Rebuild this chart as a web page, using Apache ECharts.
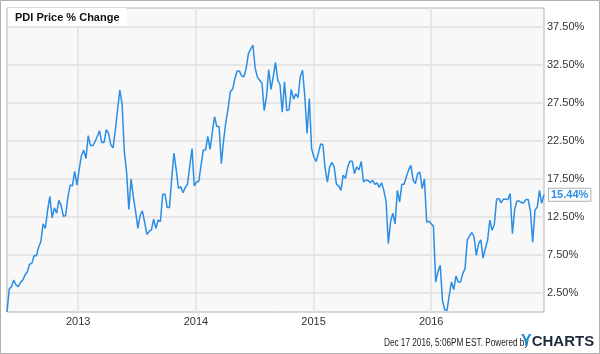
<!DOCTYPE html>
<html>
<head>
<meta charset="utf-8">
<script src="https://cdn.jsdelivr.net/npm/echarts@6/dist/echarts.min.js"></script>
<style>
html,body{margin:0;padding:0;background:#fff;}
#chart{width:600px;height:354px;}
</style>
</head>
<body>
<div id="chart"></div>
<script>
const titleText = 'PDI Price % Change';
const seriesName = 'PDI Price % Change';
const lastLabel = '15.44%';
const footerText = 'Dec 17 2016, 5:06PM EST. Powered by';
const yTickValues = [2.5, 7.5, 12.5, 17.5, 22.5, 27.5, 32.5, 37.5];
const xTickDates = ['2013-01-01', '2014-01-01', '2015-01-01', '2016-01-01'];
const xTickLabels = ['2013', '2014', '2015', '2016'];
const xMin = '2012-05-25';
const xMax = '2016-12-16';

const dates = [
'2012-05-25','2012-06-01','2012-06-08','2012-06-15','2012-06-22','2012-06-29','2012-07-06','2012-07-13','2012-07-20','2012-07-27','2012-08-03','2012-08-10','2012-08-17','2012-08-24','2012-08-31','2012-09-07','2012-09-14','2012-09-21','2012-09-28','2012-10-05','2012-10-12','2012-10-19','2012-10-26','2012-11-02','2012-11-09','2012-11-16','2012-11-23','2012-11-30','2012-12-07','2012-12-14','2012-12-21','2012-12-28',
'2013-01-04','2013-01-11','2013-01-18','2013-01-25','2013-02-01','2013-02-08','2013-02-15','2013-02-22','2013-03-01','2013-03-08','2013-03-15','2013-03-22','2013-03-29','2013-04-05','2013-04-12','2013-04-19','2013-04-26','2013-05-03','2013-05-10','2013-05-17','2013-05-24','2013-05-31','2013-06-07','2013-06-14','2013-06-21','2013-06-28','2013-07-05','2013-07-12','2013-07-19','2013-07-26','2013-08-02','2013-08-09','2013-08-16','2013-08-23','2013-08-30','2013-09-06','2013-09-13','2013-09-20','2013-09-27','2013-10-04','2013-10-11','2013-10-18','2013-10-25','2013-11-01','2013-11-08','2013-11-15','2013-11-22','2013-11-29','2013-12-06','2013-12-13','2013-12-20','2013-12-27',
'2014-01-03','2014-01-10','2014-01-17','2014-01-24','2014-01-31','2014-02-07','2014-02-14','2014-02-21','2014-02-28','2014-03-07','2014-03-14','2014-03-21','2014-03-28','2014-04-04','2014-04-11','2014-04-18','2014-04-25','2014-05-02','2014-05-09','2014-05-16','2014-05-23','2014-05-30','2014-06-06','2014-06-13','2014-06-20','2014-06-27','2014-07-04','2014-07-11','2014-07-18','2014-07-25','2014-08-01','2014-08-08','2014-08-15','2014-08-22','2014-08-29','2014-09-05','2014-09-12','2014-09-19','2014-09-26','2014-10-03','2014-10-10','2014-10-17','2014-10-24','2014-10-31','2014-11-07','2014-11-14','2014-11-21','2014-11-28','2014-12-05','2014-12-12','2014-12-19','2014-12-26',
'2015-01-02','2015-01-09','2015-01-16','2015-01-23','2015-01-30','2015-02-06','2015-02-13','2015-02-20','2015-02-27','2015-03-06','2015-03-13','2015-03-20','2015-03-27','2015-04-03','2015-04-10','2015-04-17','2015-04-24','2015-05-01','2015-05-08','2015-05-15','2015-05-22','2015-05-29','2015-06-05','2015-06-12','2015-06-19','2015-06-26','2015-07-03','2015-07-10','2015-07-17','2015-07-24','2015-07-31','2015-08-07','2015-08-14','2015-08-21','2015-08-28','2015-09-04','2015-09-11','2015-09-18','2015-09-25','2015-10-02','2015-10-09','2015-10-16','2015-10-23','2015-10-30','2015-11-06','2015-11-13','2015-11-20','2015-11-27','2015-12-04','2015-12-11','2015-12-18','2015-12-25',
'2016-01-01','2016-01-08','2016-01-15','2016-01-22','2016-01-29','2016-02-05','2016-02-12','2016-02-19','2016-02-26','2016-03-04','2016-03-11','2016-03-18','2016-03-25','2016-04-01','2016-04-08','2016-04-15','2016-04-22','2016-04-29','2016-05-06','2016-05-13','2016-05-20','2016-05-27','2016-06-03','2016-06-10','2016-06-17','2016-06-24','2016-07-01','2016-07-08','2016-07-15','2016-07-22','2016-07-29','2016-08-05','2016-08-12','2016-08-19','2016-08-26','2016-09-02','2016-09-09','2016-09-16','2016-09-23','2016-09-30','2016-10-07','2016-10-14','2016-10-21','2016-10-28','2016-11-04','2016-11-11','2016-11-18','2016-11-25','2016-12-02','2016-12-09','2016-12-16'
];

const values = [
0,3.03,3.34,4.2,3.56,3.34,3.9,4.2,4.87,5.3,6.28,6.4,7.4,7.4,8.5,9.27,11.6,11.0,13.4,15.2,12.4,13.7,13.0,14.7,14.0,12.6,12.7,15.15,16.7,16.6,18.5,16.7,
18.75,20.6,21.3,20.2,23.2,21.9,21.9,22.4,23.1,23.85,22.3,22.3,24.0,23.5,22.0,21.6,23.9,26.6,29.2,27.4,21.1,18.4,13.5,17.5,15.15,13.2,11.0,12.7,13.3,11.8,10.2,10.6,10.8,12.2,11.0,12.1,11.9,15.5,15.5,13.75,13.75,17.6,20.9,18.7,16.25,16.5,15.7,16.4,16.8,19.2,21.5,16.6,
17.1,17.2,19.3,21.3,21.3,23.1,21.4,23.7,25.7,24.4,24.4,19.5,22.6,25.0,26.8,29.0,29.3,30.7,31.7,31.7,31.05,30.95,32.05,34.0,34.6,35.1,32.05,30.9,30.5,30.1,26.5,28.3,31.9,29.3,30.95,32.85,30.5,29.9,26.3,30.3,26.5,26.6,29.3,28.0,28.7,28.2,31.0,31.8,28.3,23.5,28.1,21.5,
20.4,19.8,20.9,22.1,22.0,18.9,17.1,19.1,19.7,19.1,16.8,16.6,16.0,18.0,17.6,19.1,19.85,19.85,18.2,19.1,18.7,19.8,17.1,17.35,17.35,17.0,17.35,16.8,17.0,16.4,17.0,16.0,14.6,9.0,11.9,13.0,11.6,16.0,14.5,16.8,16.8,17.8,18.7,19.3,17.35,16.9,18.2,18.4,16.25,17.5,11.85,11.95,
11.6,11.3,3.95,5.3,6.15,1.5,0.3,0.2,2.2,3.95,2.95,4.75,3.95,3.95,5.05,5.7,9.45,10.0,10.45,9.9,7.45,9.0,9.5,7.1,8.35,9.45,12.1,10.75,11.55,14.85,14.95,14.35,14.85,14.85,14.8,15.6,10.3,13.5,14.6,14.6,14.4,14.35,14.8,14.8,13.2,9.2,13.4,13.8,16.0,14.3,15.44
];

const FONT = '"Liberation Sans", Arial, sans-serif';
const LINE = '#2b8ee4';

function toTime(s) {
  const p = s.split('-').map(Number);
  return new Date(p[0], p[1] - 1, p[2]).getTime();
}

const chart = echarts.init(document.getElementById('chart'), null, {renderer: 'canvas'});
const seriesData = dates.map((d, i) => [toTime(d), values[i]]);
const xTickValues = xTickDates.map(toTime);

chart.setOption({
  animation: false,
  backgroundColor: '#ffffff',
  textStyle: {fontFamily: FONT},
  title: {
    text: titleText,
    left: 8, top: 8,
    padding: [4, 7, 3, 7],
    backgroundColor: '#ffffff',
    textStyle: {fontSize: 11, fontWeight: 'bold', color: '#111', fontFamily: FONT}
  },
  grid: {
    left: 7, right: 56, top: 8, bottom: 42,
    show: true, backgroundColor: '#f8f8f8', borderColor: '#b4b4b4', borderWidth: 1
  },
  xAxis: {
    type: 'value',
    min: toTime(xMin), max: toTime(xMax),
    axisLine: {show: false},
    axisTick: {show: false, customValues: xTickValues},
    axisLabel: {
      customValues: xTickValues,
      formatter: v => xTickLabels[xTickValues.indexOf(v)] || '',
      color: '#333', fontSize: 11, margin: 4, fontFamily: FONT
    },
    splitLine: {show: true, lineStyle: {color: '#e2e2e2', width: 1.5}}
  },
  yAxis: {
    type: 'value',
    position: 'right',
    min: 0, max: 40,
    axisLine: {show: false},
    axisTick: {show: false, customValues: yTickValues},
    axisLabel: {
      customValues: yTickValues,
      formatter: v => v.toFixed(2) + '%',
      color: '#333', fontSize: 11, margin: 3, fontFamily: FONT
    },
    splitLine: {show: true, lineStyle: {color: '#e0e0e0', width: 1.5}}
  },
  series: [{
    name: seriesName,
    type: 'line',
    data: seriesData,
    showSymbol: false,
    symbol: 'none',
    lineStyle: {color: LINE, width: 1.5},
    itemStyle: {color: LINE},
    endLabel: {
      show: true,
      formatter: lastLabel,
      distance: 5,
      color: LINE,
      fontWeight: 'bold',
      fontSize: 11,
      fontFamily: FONT,
      backgroundColor: '#ffffff',
      borderColor: '#b0b0b0',
      borderWidth: 1,
      padding: [1, 2, 0, 2]
    }
  }],
  graphic: [
    {type: 'rect', shape: {x: 0.5, y: 0.5, width: 599, height: 353}, style: {fill: 'none', stroke: '#b0b0b0', lineWidth: 1}, silent: true},
    {type: 'text', x: 384, y: 343, scaleX: 0.82, style: {text: footerText, fontSize: 10, fill: '#222', fontFamily: FONT, verticalAlign: 'middle', align: 'left'}},
    {type: 'text', x: 521, y: 342, style: {
      text: '{y|Y}{c|CHARTS}',
      verticalAlign: 'middle',
      rich: {
        y: {fontSize: 16, fontWeight: 'bold', fill: '#1b8fd9', fontFamily: FONT},
        c: {fontSize: 15, fontWeight: 'bold', fill: '#1e2b3c', fontFamily: FONT}
      }
    }}
  ]
});
</script>
</body>
</html>
